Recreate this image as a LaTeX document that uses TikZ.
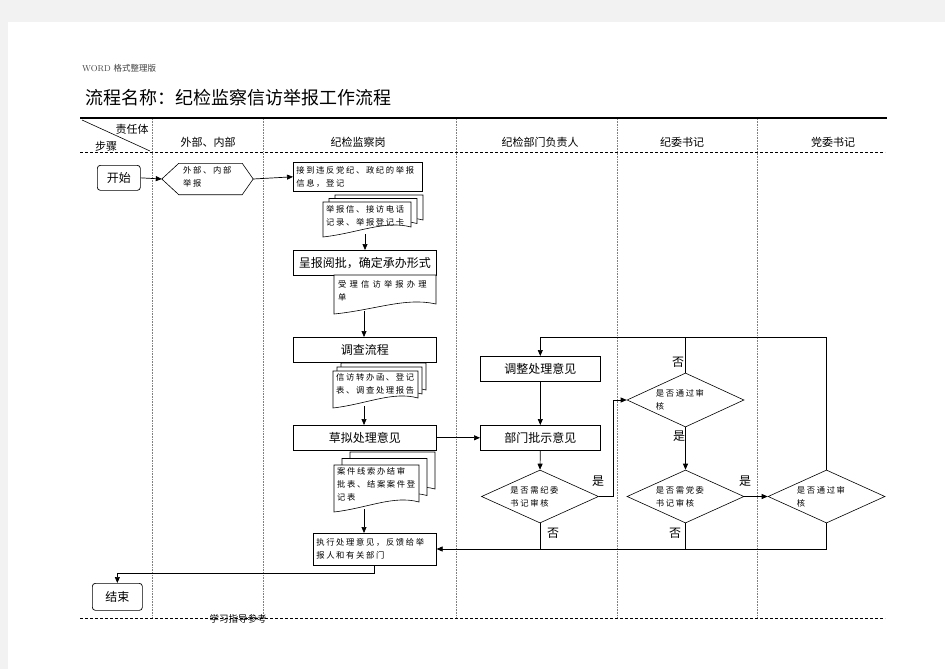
\documentclass[tikz,border=0pt]{standalone}
\usepackage{fontspec}
\newfontfamily\cjk{Noto Sans CJK SC}
\newfontfamily\cjksp[LetterSpace=20]{Noto Sans CJK SC}
\newfontfamily\cjkwide[LetterSpace=38]{Noto Sans CJK SC}
\usetikzlibrary{arrows.meta,shapes.geometric}

\newcommand\docshp[5][]{%
  \draw[docline,#1] (#2,#3) -- (#4,#3) -- (#4,{#5-5})
    .. controls ({#4-0.3*(#4-#2)},{#5-12}) and ({#2+0.4*(#4-#2)},{#5+1}) .. (#2,{#5+5}) -- cycle;}

\begin{document}
\begin{tikzpicture}[x=1pt,y=-1pt,
  box/.style={draw,line width=0.6pt,inner sep=0pt,font=\cjk\fontsize{12}{14}\selectfont},
  sbox/.style={draw,line width=0.6pt,inner sep=3pt,align=left,font=\cjksp\fontsize{8.3}{13}\selectfont},
  stxt/.style={inner sep=0pt,align=left,font=\cjksp\fontsize{8.3}{13}\selectfont},
  term/.style={draw,line width=0.7pt,rounded corners=3pt,inner sep=0pt,font=\cjk\fontsize{12}{14}\selectfont},
  dia/.style={diamond,draw,line width=0.6pt,inner sep=0pt,minimum width=117pt,minimum height=53pt},
  arr/.style={line width=0.7pt,-{Triangle[length=6pt,width=5pt]}},
  lin/.style={line width=0.7pt},
  docline/.style={draw,fill=white,line width=0.6pt},
  lab/.style={font=\cjk\fontsize{12}{14}\selectfont,inner sep=0pt},
  hdr/.style={font=\cjk\fontsize{11}{13}\selectfont,inner sep=0pt},
  lane/.style={gray,densely dotted,line width=0.6pt},
  rule/.style={dash pattern=on 3pt off 2pt,line width=0.7pt}
]
% page
\fill[black!5] (0,0) rectangle (945,669);
\fill[white] (8,22) rectangle (945,669);
\useasboundingbox (0,0) rectangle (945,669);

% heading texts
\node[anchor=west,inner sep=0pt,text=black!75,font=\fontsize{8.5}{10}\selectfont] (wm) at (82,68) {WORD {\cjk 格式整理版}};
\node[anchor=west,inner sep=0pt,font=\cjk\fontsize{18}{20}\selectfont] (title) at (85,98) {流程名称：纪检监察信访举报工作流程};

% table
\draw[line width=1.5pt] (80,118) -- (887,118);
\draw[rule] (80,152) -- (885,152);
\draw[rule] (80,618) -- (885,618);
\foreach \xx in {152,263,456,617,757} \draw[lane] (\xx,119) -- (\xx,617);
\draw[line width=0.6pt] (82,120) -- (150,151);
\node[hdr] (h0a) at (132,129) {责任体};
\node[hdr] (h0b) at (106,146) {步骤};
\node[hdr] (h1) at (208,142) {外部、内部};
\node[hdr] (h2) at (358,142) {纪检监察岗};
\node[hdr] (h3) at (540,142) {纪检部门负责人};
\node[hdr] (h4) at (682,142) {纪委书记};
\node[hdr] (h5) at (833,142) {党委书记};

% start / hexagon
\node[term,minimum width=43pt,minimum height=25pt,anchor=north west] (start) at (97,165) {开始};
\node[inner sep=0pt,minimum width=91pt,minimum height=31pt] (hex) at (207.5,179) {};
\draw[line width=0.6pt] (hex.west) -- ([xshift=17pt]hex.north west) -- ([xshift=-11pt]hex.north east) -- (hex.east) -- ([xshift=-11pt]hex.south east) -- ([xshift=17pt]hex.south west) -- cycle;
\node[stxt,anchor=north west] (hext) at (183,166) {外部、内部\\举报};

% column 2
\node[sbox,text width=123pt,minimum width=129pt,minimum height=29pt,anchor=north west] (b1) at (293,162) {接到违反党纪、政纪的举报\\信息，登记};

\docshp{335}{195}{423}{225}
\docshp{329}{198.5}{417}{228.5}
\docshp{323}{202}{411}{232}
\node[stxt,anchor=north west] (d1) at (326,205) {举报信、接访电话\\记录、举报登记卡};
\coordinate (d1b) at (365,234);

\node[box,minimum width=143pt,minimum height=25pt,anchor=north west] (b2) at (293,250) {呈报阅批，确定承办形式};

\docshp{334}{275}{436}{309}
\node[stxt,font=\cjkwide\fontsize{8.3}{13}\selectfont,anchor=north west] (d2) at (338,280) {受理信访举报办理\\单};
\coordinate (d2b) at (364,311);

\node[box,minimum width=143pt,minimum height=25pt,anchor=north west] (b3) at (293,337) {调查流程};

\docshp{341}{363}{426}{395}
\docshp{337}{367}{422}{399}
\docshp{333}{371}{418}{403}
\node[stxt,anchor=north west] (d3) at (336,373) {信访转办函、登记\\表、调查处理报告};
\coordinate (d3b) at (364,406);

\node[box,minimum width=143pt,minimum height=25pt,anchor=north west] (b4) at (293,425) {草拟处理意见};

\docshp{350}{452}{435}{494}
\docshp{342}{458.5}{427}{500.5}
\docshp{334}{465}{419}{507}
\node[stxt,anchor=north west] (d4) at (337,467) {案件线索办结审\\批表、结案案件登\\记表};
\coordinate (d4b) at (364,509);

\node[sbox,text width=117pt,minimum width=123pt,minimum height=32pt,anchor=north west] (b5) at (313,533) {执行处理意见，反馈给举\\报人和有关部门};

\node[term,minimum width=50pt,minimum height=27pt,anchor=north west] (end) at (92,583) {结束};

% column 3
\node[box,minimum width=120pt,minimum height=25pt,anchor=north west] (adj) at (480,356) {调整处理意见};
\node[box,minimum width=120pt,minimum height=25pt,anchor=north west] (dept) at (480,425) {部门批示意见};
\node[dia] (dia1) at (540,496.5) {};
\node[stxt,anchor=west] (t1) at ([xshift=29pt]dia1.west) {是否需纪委\\书记审核};

% column 4
\node[dia,minimum height=54pt] (dia2) at (685.5,400) {};
\node[stxt,anchor=west] (t2) at ([xshift=29pt]dia2.west) {是否通过审\\核};
\node[dia] (dia4) at (685.5,496.5) {};
\node[stxt,anchor=west] (t4) at ([xshift=29pt]dia4.west) {是否需党委\\书记审核};

% column 5
\node[dia] (dia3) at (826.5,496.5) {};
\node[stxt,anchor=west] (t3) at ([xshift=29pt]dia3.west) {是否通过审\\核};

% connectors
\draw[arr] (start.east) -- (hex.west);
\draw[arr] (hex.east) -- (b1.west);
\draw[arr] (d1b) -- (d1b |- b2.north);
\draw[arr] (d2b) -- (d2b |- b3.north);
\draw[arr] (d3b) -- (d3b |- b4.north);
\draw[arr] (d4b) -- (d4b |- b5.north);
\draw[arr] (b5.south) -- ++(0,8) -| (end.north);
\draw[arr] (b4.east) -- (dept.west);
\draw[arr] (adj.south) -- (dept.north);
\draw[arr] (dept.south) -- (dia1.north);
\draw[arr] (dia1.east) -- ++(15,0) |- (dia2.west);
\draw[arr] (dia2.south) -- (dia4.north);
\draw[arr] (dia4.east) -- (dia3.west);
\coordinate (top) at (0,337);
\coordinate (bot) at (0,549);
\draw[arr] (dia3.north) -- (dia3.north |- top) -| (adj.north);
\draw[lin] (dia2.north) -- (dia2.north |- top);
\draw[arr] (dia3.south) -- (dia3.south |- bot) -- (bot -| b5.east);
\draw[lin] (dia4.south) -- (dia4.south |- bot);
\draw[lin] (dia1.south) -- (dia1.south |- bot);

% labels
\node[lab] (y1) at (598,481) {是};
\node[lab] (n1) at (553,533) {否};
\node[lab] (n2) at (678,362) {否};
\node[lab] (y2) at (679,436) {是};
\node[lab] (y4) at (745,481) {是};
\node[lab] (n4) at (675,533) {否};

% footer
\node[inner sep=0pt,font=\cjk\fontsize{9.5}{11}\selectfont] (foot) at (238,619) {学习指导参考};
\end{tikzpicture}
\end{document}
